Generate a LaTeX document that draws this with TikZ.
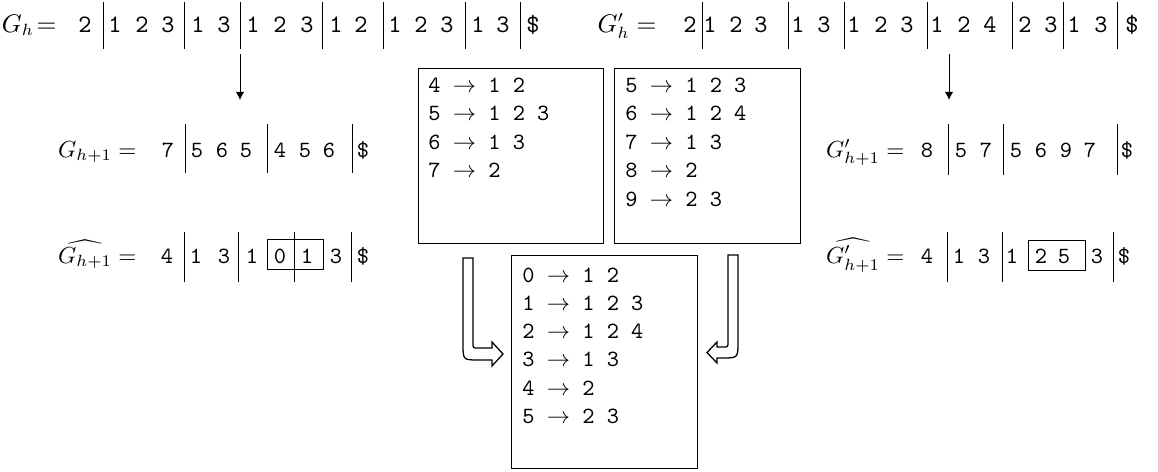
\documentclass[tikz,border=0pt]{standalone}
\usetikzlibrary{arrows.meta}
\begin{document}
\begin{tikzpicture}[x=0.43pt,y=-0.43pt,
  dg/.style={font=\ttfamily, inner sep=0pt, anchor=base},
  dgtop/.style={font=\fontsize{10.8}{13}\ttfamily, inner sep=0pt, anchor=base},
  eq/.style={inner sep=0pt, anchor=base east},
  sepbar/.style={line width=0.4pt},
  listbox/.style={draw, line width=0.55pt, anchor=north west, inner sep=0pt},
  rowtxt/.style={font=\ttfamily, inner sep=0pt, anchor=base west},
  hollow/.style={line width=0.55pt},
  smallarrow/.style={line width=0.4pt, -{Latex[length=3.5pt,width=3.6pt]}}
]
\useasboundingbox (0,0) rectangle (1158,471);

% ---------- top row left ----------
\node[eq, font=\fontsize{10.5}{13}\selectfont] (eqA) at (57,32) {$G_h\!=$};
\foreach \x/\t [count=\i] in {85/2,115/1,142/2,168/3,198/1,224/3,253/1,280/2,307/3,336/1,361/2,395/1,421/2,447/3,478/1,503/3,533/\$}
  \node[dgtop] (ta\i) at (\x,32) {\t};
\foreach \x in {103,184,240,322,383,465,520}
  \draw[sepbar] (\x,2) -- (\x,49);

% ---------- top row right ----------
\node[eq, font=\fontsize{10.5}{13}\selectfont] (eqB) at (657,32) {$G'_h =$};
\foreach \x/\t [count=\i] in {690/2,710/1,736/2,761/3,798/1,824/3,854/1,881/2,907/3,937/1,964/2,990/4,1025/2,1051/3,1074/1,1101/3,1132/\$}
  \node[dgtop] (tb\i) at (\x,32) {\t};
\foreach \x in {702,788,844,927,1012,1063,1117}
  \draw[sepbar] (\x,2) -- (\x,49);

% ---------- small arrows ----------
\coordinate (sa1) at (240,54); \coordinate (ea1) at (240,100);
\coordinate (sa2) at (949,54); \coordinate (ea2) at (949,100);
\draw[smallarrow] (sa1) -- (ea1);
\draw[smallarrow] (sa2) -- (ea2);

% ---------- row 2 left ----------
\node[eq] (eqC) at (137,157) {$G_{h+1} =$};
\foreach \x/\t [count=\i] in {168/7,197/5,222/6,246/5,280/4,305/5,329/6,363/\$}
  \node[dg] (tc\i) at (\x,157) {\t};
\foreach \x in {185,267,352}
  \draw[sepbar] (\x,124) -- (\x,173);

% ---------- row 2 right ----------
\node[eq] (eqD) at (905,157) {$G'_{h+1} =$};
\foreach \x/\t [count=\i] in {927/8,961/5,986/7,1016/5,1041/6,1066/9,1090/7,1127/\$}
  \node[dg] (td\i) at (\x,157) {\t};
\foreach \x in {948,1003,1117}
  \draw[sepbar] (\x,124) -- (\x,175);

% ---------- row 3 left ----------
\node[eq] (eqE) at (137,263) {$\widehat{G_{h+1}} =$};
\foreach \x/\t [count=\i] in {167/4,196/1,224/3,252/1,280/0,307/1,336/3,363/\$}
  \node[dg] (te\i) at (\x,263) {\t};
\foreach \x in {184,238,294,351}
  \draw[sepbar] (\x,232) -- (\x,282);
\draw[sepbar] (267,239) rectangle (323,269);

% ---------- row 3 right ----------
\node[eq] (eqF) at (905,263) {$\widehat{G'_{h+1}} =$};
\foreach \x/\t [count=\i] in {927/4,959/1,984/3,1012/1,1041/2,1064/5,1097/3,1124/\$}
  \node[dg] (tf\i) at (\x,263) {\t};
\foreach \x in {947,1002,1113}
  \draw[sepbar] (\x,232) -- (\x,282);
\draw[sepbar] (1028,240) rectangle (1085,270);

% ---------- boxes ----------
\node[listbox, minimum width=79.6pt, minimum height=75.3pt] (b1) at (418,68) {};
\node[listbox, minimum width=80pt, minimum height=75.3pt] (b2) at (614,68) {};
\node[listbox, minimum width=80pt, minimum height=91.6pt] (b3) at (511,255) {};

\node[rowtxt] (r11) at (428,92) {4 $\rightarrow$ 1 2};
\node[rowtxt] (r12) at (428,120.5) {5 $\rightarrow$ 1 2 3};
\node[rowtxt] (r13) at (428,149) {6 $\rightarrow$ 1 3};
\node[rowtxt] (r14) at (428,177.5) {7 $\rightarrow$ 2};

\node[rowtxt] (r21) at (625,92) {5 $\rightarrow$ 1 2 3};
\node[rowtxt] (r22) at (625,120.5) {6 $\rightarrow$ 1 2 4};
\node[rowtxt] (r23) at (625,149) {7 $\rightarrow$ 1 3};
\node[rowtxt] (r24) at (625,177.5) {8 $\rightarrow$ 2};
\node[rowtxt] (r25) at (625,206) {9 $\rightarrow$ 2 3};

\node[rowtxt] (r31) at (522,282) {0 $\rightarrow$ 1 2};
\node[rowtxt] (r32) at (522,310.3) {1 $\rightarrow$ 1 2 3};
\node[rowtxt] (r33) at (522,338.6) {2 $\rightarrow$ 1 2 4};
\node[rowtxt] (r34) at (522,366.9) {3 $\rightarrow$ 1 3};
\node[rowtxt] (r35) at (522,395.2) {4 $\rightarrow$ 2};
\node[rowtxt] (r36) at (522,423.5) {5 $\rightarrow$ 2 3};

% ---------- hollow arrows ----------
\draw[hollow] (473,258) -- (463,258) -- (463,344)
  .. controls (463,360) and (463,360) .. (479,360) -- (492,360) -- (492,366)
  -- (503,354) -- (492,342) -- (492,348) -- (478,348)
  .. controls (473,348) and (473,348) .. (473,343) -- cycle;
\draw[hollow] (728,255) -- (738,255) -- (738,342)
  .. controls (738,358) and (738,358) .. (722,358) -- (717,358) -- (717,363)
  -- (707,352.5) -- (717,342) -- (717,347) -- (723,347)
  .. controls (728,347) and (728,347) .. (728,342) -- cycle;
\end{tikzpicture}
\end{document}
